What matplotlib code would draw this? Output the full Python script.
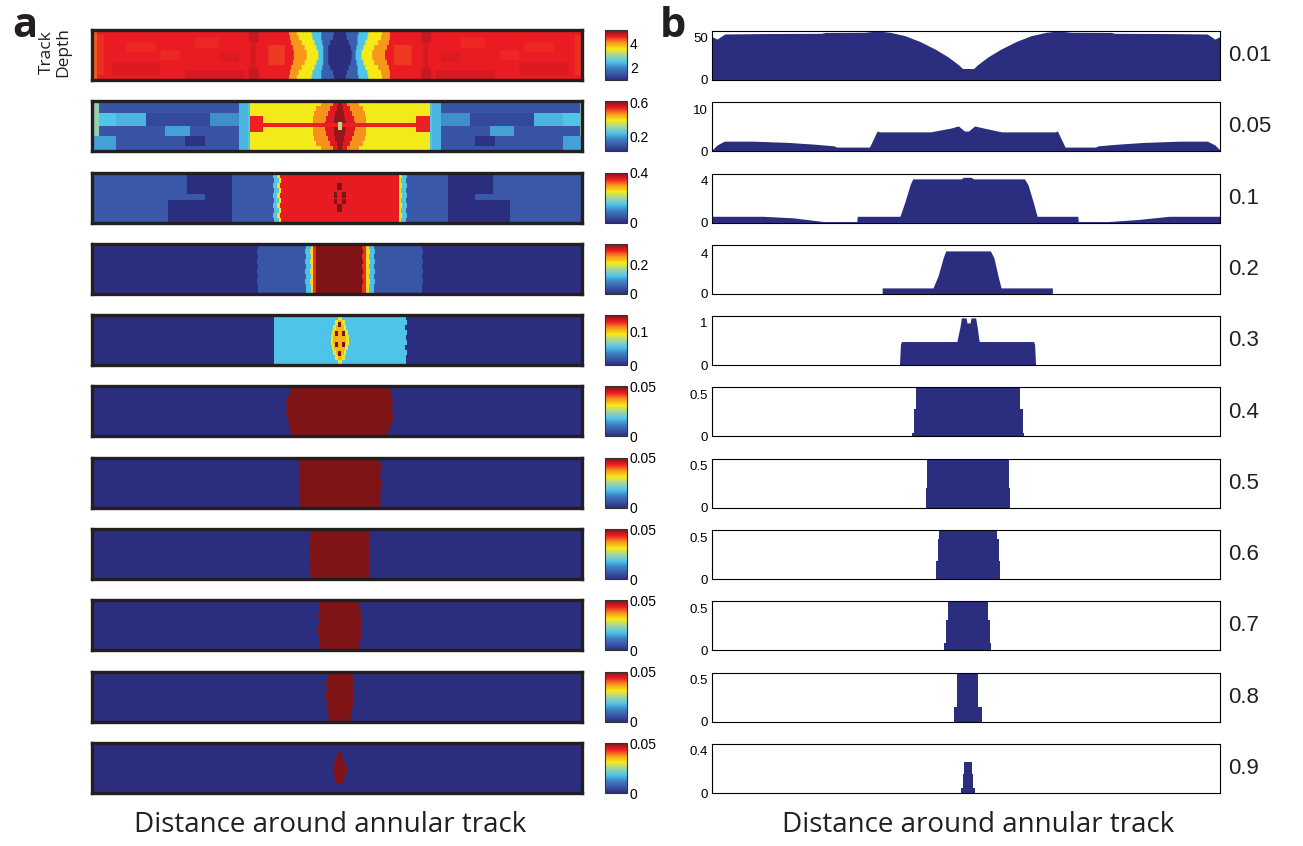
"""Noise sweep: track-depth heatmaps (a) and summed profiles (b) around the annular track."""

import matplotlib.pyplot as plt
import numpy as np
from matplotlib.colors import LinearSegmentedColormap

NOISE_LEVELS = ["0.01", "0.05", "0.1", "0.2", "0.3", "0.4", "0.5", "0.6", "0.7", "0.8", "0.9"]

# ---- panel a: heatmaps (track position 0-100, depth 0-10) ----
HEAT_CENTER = 50.6
HEAT_CLIM = [(0.9, 5.2), (0.02, 0.62), (0, 0.4), (0, 0.34), (0, 0.15)] + [(0, 0.05)] * 6
HEAT_TICKS = [[2, 4], [0.2, 0.6], [0, 0.4], [0, 0.2], [0, 0.1]] + [[0, 0.05]] * 6
HEAT_TICKLABELS = [["2", "4"], ["0.2", "0.6"], ["0", "0.4"], ["0", "0.2"], ["0", "0.1"]] + [["0", "0.05"]] * 6
HEAT_BG = [4.64, 0.09, 0.05, 0.0, 0.0, 0.0, 0.0, 0.0, 0.0, 0.0, 0.0]

# texture on the left half, mirrored to the right: (t0, t1, depth0, depth1, value)
HEAT_PATCHES = [
    [(0, 1.0, 0, 10, 4.35), (1.0, 2.5, 1, 9, 4.55), (32.0, 34.0, 0, 2.5, 4.82),
     (32.0, 34.0, 7.5, 10, 4.82), (32.5, 33.5, 2.5, 7.5, 4.75), (19, 31, 8, 10, 4.74),
     (4, 14, 6.5, 9, 4.72), (7, 13, 2.5, 4.5, 4.58), (21, 26, 1.5, 3.5, 4.58),
     (14, 18, 4, 6, 4.59), (26, 30, 4.5, 6.5, 4.72), (36, 39.5, 3, 7, 4.5)],
    [(0, 1.5, 0.5, 7, 0.3), (1.5, 5, 2.5, 5, 0.24), (0, 5, 7, 10, 0.2),
     (5, 11, 2.5, 5, 0.22), (11, 24, 2.5, 5, 0.07), (15, 20, 5, 7, 0.2),
     (24, 30, 2.5, 5, 0.18), (19, 23, 7, 9, 0.03), (30, 32.3, 0, 10, 0.22)],
    [(19.4, 28.6, 0, 4.3, 0.0), (23, 28.6, 4.3, 5.6, 0.0), (15.7, 28.6, 5.6, 10, 0.0)],
    [], [], [], [], [], [], [], [],
]

# bands symmetric about the centre, outermost first: (value, half-width per depth row)
HEAT_BANDS = [
    [(4.1, [10.3, 10.2, 10.0, 9.6, 9.3, 9.3, 9.6, 10.0, 10.2, 10.3]),
     (3.57, [8.7, 8.4, 7.8, 7.1, 6.7, 6.7, 7.1, 7.8, 8.4, 8.7]),
     (2.45, [5.8, 5.6, 5.2, 4.8, 4.5, 4.5, 4.8, 5.2, 5.6, 5.8]),
     (1.55, [3.8, 3.7, 3.6, 3.4, 3.3, 3.3, 3.4, 3.6, 3.7, 3.8]),
     (0.9, [1.2, 1.5, 1.9, 2.3, 2.5, 2.5, 2.3, 1.9, 1.5, 1.2])],
    [(0.24, [18.9] * 10),
     (0.39, [18.3] * 10),
     (0.47, [3.8, 4.8, 5.2, 5.5, 5.5, 5.5, 5.5, 5.2, 4.8, 3.8]),
     (0.55, [1.5, 2.0, 2.5, 2.8, 3.0, 3.0, 2.8, 2.5, 2.0, 1.5]),
     (0.6, [0.4, 0.6, 0.9, 1.1, 1.2, 1.2, 1.1, 0.9, 0.6, 0.4])],
    [(0.15, [13.6, 13.4, 13.6, 13.4, 13.6, 13.4, 13.6, 13.4, 13.6, 13.4]),
     (0.25, [12.7, 12.5, 12.7, 12.5, 12.7, 12.5, 12.7, 12.5, 12.7, 12.5]),
     (0.35, [12.1, 12.0, 12.1, 12.0, 12.1, 12.0, 12.1, 12.0, 12.1, 12.0])],
    [(0.04, [16.8, 17.0, 16.9, 17.1, 16.9, 17.0, 16.8, 17.0, 16.9, 16.8]),
     (0.12, [7.0, 7.2, 7.0, 7.2, 7.0, 7.2, 7.0, 7.2, 7.0, 7.0]),
     (0.22, [6.0, 6.2, 6.0, 6.2, 6.0, 6.2, 6.0, 6.2, 6.0, 6.0]),
     (0.29, [5.4, 5.5, 5.4, 5.5, 5.4, 5.5, 5.4, 5.5, 5.4, 5.4]),
     (0.34, [4.7, 4.8, 4.7, 4.8, 4.7, 4.8, 4.7, 4.8, 4.7, 4.7])],
    [(0.054, [13.4, 13.5, 13.3, 13.5, 13.4, 13.5, 13.3, 13.5, 13.4, 13.4]),
     (0.09, [0.5, 1.0, 1.3, 1.6, 1.8, 1.8, 1.6, 1.3, 1.0, 0.5]),
     (0.105, [0, 0.4, 0.8, 1.1, 1.3, 1.3, 1.1, 0.8, 0.4, 0])],
    [(0.05, [10.0, 10.4, 10.7, 10.9, 10.6, 10.9, 10.8, 10.5, 10.2, 9.9])],
    [(0.05, [8.2, 8.4, 8.5, 8.3, 8.5, 8.4, 8.5, 8.3, 8.4, 8.2])],
    [(0.05, [6.0, 6.2, 6.1, 6.3, 6.1, 6.2, 6.3, 6.1, 6.2, 6.0])],
    [(0.05, [3.9, 4.1, 4.2, 4.3, 4.2, 4.3, 4.3, 4.2, 4.1, 3.9])],
    [(0.05, [2.4, 2.6, 2.7, 2.6, 2.7, 2.7, 2.6, 2.5, 2.3, 2.1])],
    [(0.05, [0, 0, 0.5, 0.9, 1.3, 1.35, 1.1, 0.7, 0, 0])],
]

# centre details, drawn last: (t0, t1, depth0, depth1, value)
HEAT_SPOTS = [
    [],
    [(32.3, 34.9, 3.0, 6.2, 0.54), (66.3, 68.9, 3.0, 6.2, 0.54),
     (32.3, 68.9, 4.6, 5.3, 0.54), (50.2, 51.0, 4.3, 5.7, 0.33)],
    [(50.1, 51.1, 2.0, 3.5, 0.4), (50.1, 51.1, 6.3, 7.8, 0.4),
     (49.4, 50.1, 3.8, 5.0, 0.4), (51.1, 51.8, 3.8, 5.0, 0.4),
     (49.4, 50.1, 5.2, 6.2, 0.4), (51.1, 51.8, 5.2, 6.2, 0.4)],
    [],
    [(50.2, 50.9, 1.5, 2.5, 0.15), (49.7, 50.3, 3.3, 4.3, 0.15),
     (51.0, 51.6, 3.3, 4.3, 0.15), (49.7, 50.3, 5.5, 6.5, 0.15),
     (51.0, 51.6, 5.5, 6.5, 0.15), (50.2, 50.9, 7.3, 8.3, 0.15)],
    [], [], [], [], [], [],
]

# ---- panel b: profiles (track position 0-100) ----
PROF_X = [
    [0, 1.0, 2.5, 10, 21.5, 22.3, 30, 32.7, 35, 38, 41, 44, 46.5, 48.5, 49.3,
     51.5, 52.3, 54.3, 56.8, 59.8, 62.8, 65.8, 68.1, 70.8, 78.5, 79.3, 90, 97.5, 99.0, 100],
    [0, 1, 2.4, 8, 15, 20, 24, 24.5, 31, 32.5, 33, 43, 47, 48.5, 49.7, 50.5, 51.7,
     53.5, 57, 67.5, 68, 69.5, 75.5, 76, 80, 85, 92, 97.5, 99, 100],
    [0, 10, 16, 22, 28.5, 28.6, 37, 38, 39, 39.5, 49, 49.5, 51, 51.5, 61.5, 62.2,
     63.2, 64, 72, 72.1, 78, 84, 87, 90, 100],
    [0, 33.5, 33.5, 43.5, 44.5, 45.5, 46, 54.8, 55.5, 56.3, 56.9, 67, 67, 100],
    [0, 36.9, 37.1, 37.3, 48.2, 48.8, 49.1, 50.0, 50.2, 50.8, 51.0, 51.9, 52.2,
     52.6, 63.3, 63.5, 63.7, 100],
    [0, 39.3, 39.3, 39.7, 39.7, 40.2, 40.2, 60.6, 60.6, 61.2, 61.2, 61.5, 61.5, 100],
    [0, 42.1, 42.1, 42.3, 42.3, 58.5, 58.5, 58.7, 58.7, 100],
    [0, 44.0, 44.0, 44.4, 44.4, 44.6, 44.6, 56.2, 56.2, 56.5, 56.5, 56.7, 56.7, 100],
    [0, 45.7, 45.7, 46.1, 46.1, 46.4, 46.4, 54.4, 54.4, 54.7, 54.7, 55.0, 55.0, 100],
    [0, 47.6, 47.6, 48.2, 48.2, 52.4, 52.4, 53.2, 53.2, 100],
    [0, 49.0, 49.0, 49.4, 49.4, 49.6, 49.6, 51.2, 51.2, 51.4, 51.4, 51.8, 51.8, 100],
]
PROF_Y = [
    [51, 48, 54, 54.5, 54.8, 55.8, 56, 57.5, 56, 52, 45, 36, 27, 18, 13.5,
     13.5, 18, 27, 36, 45, 52, 56, 57.5, 56, 55.8, 54.8, 54.5, 54, 48, 51],
    [0.3, 1.5, 2.4, 2.4, 2.1, 1.7, 1.3, 1.0, 1.0, 4.8, 4.6, 4.6, 5.5, 6.0, 4.8,
     4.8, 6.0, 5.5, 4.6, 4.6, 4.8, 1.0, 1.0, 1.3, 1.7, 2.1, 2.4, 2.4, 1.5, 0.3],
    [0.6, 0.6, 0.45, 0.1, 0.1, 0.6, 0.6, 2.0, 3.6, 4.15, 4.15, 4.3, 4.3, 4.15,
     4.15, 3.6, 2.0, 0.6, 0.6, 0.1, 0.1, 0.3, 0.45, 0.6, 0.6],
    [0, 0, 0.6, 0.6, 1.8, 3.6, 4.3, 4.3, 3.6, 1.8, 0.6, 0.6, 0, 0],
    [0, 0, 0.5, 0.56, 0.56, 0.9, 1.12, 1.12, 1.0, 1.0, 1.12, 1.12, 0.9, 0.56,
     0.56, 0.5, 0, 0],
    [0, 0, 0.04, 0.04, 0.33, 0.33, 0.7, 0.7, 0.33, 0.33, 0.04, 0.04, 0, 0],
    [0, 0, 0.24, 0.24, 0.7, 0.7, 0.24, 0.24, 0, 0],
    [0, 0, 0.22, 0.22, 0.48, 0.48, 0.7, 0.7, 0.48, 0.48, 0.22, 0.22, 0, 0],
    [0, 0, 0.09, 0.09, 0.36, 0.36, 0.7, 0.7, 0.36, 0.36, 0.09, 0.09, 0, 0],
    [0, 0, 0.18, 0.18, 0.7, 0.7, 0.18, 0.18, 0, 0],
    [0, 0, 0.05, 0.05, 0.18, 0.18, 0.29, 0.29, 0.18, 0.18, 0.05, 0.05, 0, 0],
]
PROF_YMAX = [57.5, 11.6, 4.65, 4.9, 1.16, 0.585, 0.585, 0.585, 0.585, 0.585, 0.464]
PROF_YTICKS = [[0, 50], [0, 10], [0, 4], [0, 4], [0, 1]] + [[0, 0.5]] * 5 + [[0, 0.4]]
PROF_YTICKLABELS = [["0", "50"], ["0", "10"], ["0", "4"], ["0", "4"], ["0", "1"]] + [["0", "0.5"]] * 5 + [["0", "0.4"]]

NAVY = "#2b2e7f"
JET_PRINT = [(0.0, "#2b2e7f"), (0.11, "#3953a4"), (0.24, "#3d80c2"), (0.36, "#4fc4ea"),
             (0.5, "#a8d59c"), (0.62, "#f6eb16"), (0.75, "#f7941d"), (0.87, "#ec1c24"),
             (1.0, "#7f1416")]

W, H = 1303, 846
SANS = ["Liberation Sans", "DejaVu Sans"]
MYRIAD = ["Open Sans", "DejaVu Sans"]


def box(left, top, width, height):
    return [left / W, 1 - (top + height) / H, width / W, height / H]


def build_grid(i, cols, sub=4):
    rows = 10 * sub
    depth = (np.arange(rows) + 0.5) / sub
    grid = np.full((rows, cols.size), HEAT_BG[i], dtype=float)

    def paint(t0, t1, d0, d1, v):
        rmask = (depth >= d0) & (depth < d1)
        cmask = (cols >= t0) & (cols < t1)
        grid[np.ix_(rmask, cmask)] = v

    for t0, t1, d0, d1, v in HEAT_PATCHES[i]:
        paint(t0, t1, d0, d1, v)
        paint(2 * HEAT_CENTER - t1, 2 * HEAT_CENTER - t0, d0, d1, v)
    dist = np.abs(cols - HEAT_CENTER)
    for v, hw in HEAT_BANDS[i]:
        hw_rows = np.repeat(hw, sub)
        grid[dist[None, :] < hw_rows[:, None]] = v
    for t0, t1, d0, d1, v in HEAT_SPOTS[i]:
        paint(t0, t1, d0, d1, v)
    return grid


def main():
    cmap = LinearSegmentedColormap.from_list("jet_print", JET_PRINT, N=256)
    cols = np.arange(0, 100, 0.2) + 0.1

    fig = plt.figure(figsize=(W / 100, H / 100), dpi=100)

    for i, level in enumerate(NOISE_LEVELS):
        top = 30 + 71.3 * i

        # heatmap
        ax = fig.add_axes(box(92, top, 490, 50))
        vmin, vmax = HEAT_CLIM[i]
        im = ax.imshow(build_grid(i, cols), cmap=cmap, vmin=vmin, vmax=vmax,
                       aspect="auto", extent=(0, 100, 10, 0),
                       interpolation="bilinear" if i == 0 else "nearest")
        ax.set_xticks([])
        ax.set_yticks([])
        for sp in ax.spines.values():
            sp.set_linewidth(2.4)
            sp.set_color("#231f20")

        cax = fig.add_axes(box(605, top, 22, 50))
        cb = fig.colorbar(im, cax=cax, ticks=HEAT_TICKS[i])
        cb.set_ticklabels(HEAT_TICKLABELS[i])
        cb.outline.set_linewidth(0.8)
        cb.outline.set_edgecolor("#333333")
        cax.tick_params(length=0, pad=2, labelsize=10)
        for lab in cax.get_yticklabels():
            lab.set_fontfamily(SANS)

        # profile
        bx = fig.add_axes(box(712, top + 1, 508, 49))
        bx.fill_between(PROF_X[i], PROF_Y[i], 0, color=NAVY, linewidth=0)
        bx.set_xlim(0, 100)
        bx.set_ylim(0, PROF_YMAX[i])
        bx.set_xticks([])
        bx.set_yticks(PROF_YTICKS[i])
        bx.set_yticklabels(PROF_YTICKLABELS[i], fontfamily=SANS)
        bx.tick_params(length=0, pad=3, labelsize=9.5)
        for sp in bx.spines.values():
            sp.set_linewidth(0.8)
        bx.text(1.016, 0.5, level, transform=bx.transAxes, ha="left", va="center",
                fontsize=16, fontfamily=SANS, color="#231f20")

    fig.text(12 / W, 1 - 37 / H, "a", fontsize=30, fontweight="bold",
             fontfamily=MYRIAD, va="baseline", color="#231f20")
    fig.text(660 / W, 1 - 37 / H, "b", fontsize=30, fontweight="bold",
             fontfamily=MYRIAD, va="baseline", color="#231f20")
    fig.text(55 / W, 1 - 52 / H, "Track\nDepth", rotation=90, ha="center", va="center",
             fontsize=12.5, fontfamily=MYRIAD, linespacing=1.0, color="#231f20")
    fig.text(330 / W, 1 - 825 / H, "Distance around annular track", ha="center",
             va="center", fontsize=20, fontfamily=MYRIAD, color="#231f20")
    fig.text(978 / W, 1 - 825 / H, "Distance around annular track", ha="center",
             va="center", fontsize=20, fontfamily=MYRIAD, color="#231f20")

    fig.savefig("out.png", dpi=100)


if __name__ == "__main__":
    main()
